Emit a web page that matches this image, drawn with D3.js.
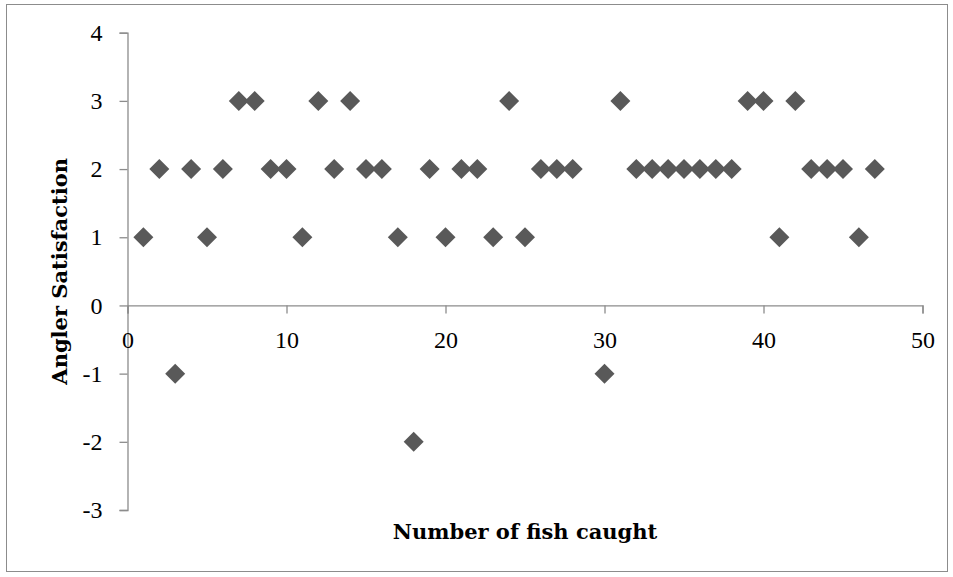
<!DOCTYPE html>
<html lang="en">
<head>
  <meta charset="UTF-8" />
  <title>Angler Satisfaction vs Number of fish caught</title>
  <script src="https://d3js.org/d3.v7.min.js"></script>
  <style>
    body {
      margin: 0;
      background: #fff;
      font-family: 'Liberation Serif', serif;
    }
    .tick text {
      font-size: 24px;
      fill: #000;
    }
    .axis-title {
      font-family: 'DejaVu Serif', serif;
      font-size: 21px;
      font-weight: bold;
      fill: #000;
    }
  </style>
</head>
<body>
  <svg id="chart"></svg>

  <script>
    // Data
    const fishCaught = [1, 2, 3, 4, 5, 6, 7, 8, 9, 10, 11, 12, 13, 14, 15, 16, 17, 18, 19, 20,
      21, 22, 23, 24, 25, 26, 27, 28, 30, 31, 32, 33, 34, 35, 36, 37, 38, 39, 40, 41, 42, 43, 44, 45, 46, 47];
    const satisfaction = [1, 2, -1, 2, 1, 2, 3, 3, 2, 2, 1, 3, 2, 3, 2, 2, 1, -2, 2, 1,
      2, 2, 1, 3, 1, 2, 2, 2, -1, 3, 2, 2, 2, 2, 2, 2, 2, 3, 3, 1, 3, 2, 2, 2, 1, 2];
    const xTicks = [0, 10, 20, 30, 40, 50];
    const yTicks = [-3, -2, -1, 0, 1, 2, 3, 4];

    const width = 953, height = 577;
    const margin = { left: 127.5, right: 30.5, top: 32.7, bottom: 67 };

    const svg = d3.select('#chart')
      .attr('width', width)
      .attr('height', height);

    // outer frame
    svg.append('rect')
      .attr('x', 6.5).attr('y', 4.5)
      .attr('width', 941).attr('height', 567)
      .attr('fill', 'none')
      .attr('stroke', '#8c8c8c')
      .attr('stroke-width', 1);

    const x = d3.scaleLinear().domain([0, 50]).range([margin.left, width - margin.right]);
    const y = d3.scaleLinear().domain([-3, 4]).range([height - margin.bottom, margin.top]);

    // y axis at x = 0
    const yAxis = svg.append('g')
      .attr('transform', `translate(${x(0)},0)`)
      .call(d3.axisLeft(y).tickValues(yTicks).tickSize(8).tickPadding(17).tickFormat(d3.format('d')));

    // x axis crossing at y = 0
    const xAxis = svg.append('g')
      .attr('transform', `translate(0,${y(0)})`)
      .call(d3.axisBottom(x).tickValues(xTicks).tickSize(8).tickPadding(18).tickFormat(d3.format('d')));

    [xAxis, yAxis].forEach(g => {
      g.select('.domain').attr('stroke', '#8c8c8c').attr('stroke-width', 1.3);
      g.selectAll('.tick line').attr('stroke', '#8c8c8c').attr('stroke-width', 1.3);
      g.selectAll('.tick text').style('font-family', "'Liberation Serif', serif");
    });
    // minus signs as plain hyphens like the original
    yAxis.selectAll('.tick text').text(d => String(d));

    // points
    const points = fishCaught.map((f, i) => ({ x: f, y: satisfaction[i] }));
    const diamond = d3.symbol().type(d3.symbolSquare).size(200);
    svg.append('g')
      .selectAll('path')
      .data(points)
      .join('path')
      .attr('d', diamond)
      .attr('transform', d => `translate(${x(d.x)},${y(d.y)}) rotate(45)`)
      .attr('fill', '#595959');

    // axis titles
    svg.append('text')
      .attr('class', 'axis-title')
      .attr('x', (x(0) + x(50)) / 2)
      .attr('y', 539)
      .attr('text-anchor', 'middle')
      .text('Number of fish caught');

    svg.append('text')
      .attr('class', 'axis-title')
      .attr('transform', `translate(67,${(y(-3) + y(4)) / 2}) rotate(-90)`)
      .attr('text-anchor', 'middle')
      .text('Angler Satisfaction');
  </script>
</body>
</html>
